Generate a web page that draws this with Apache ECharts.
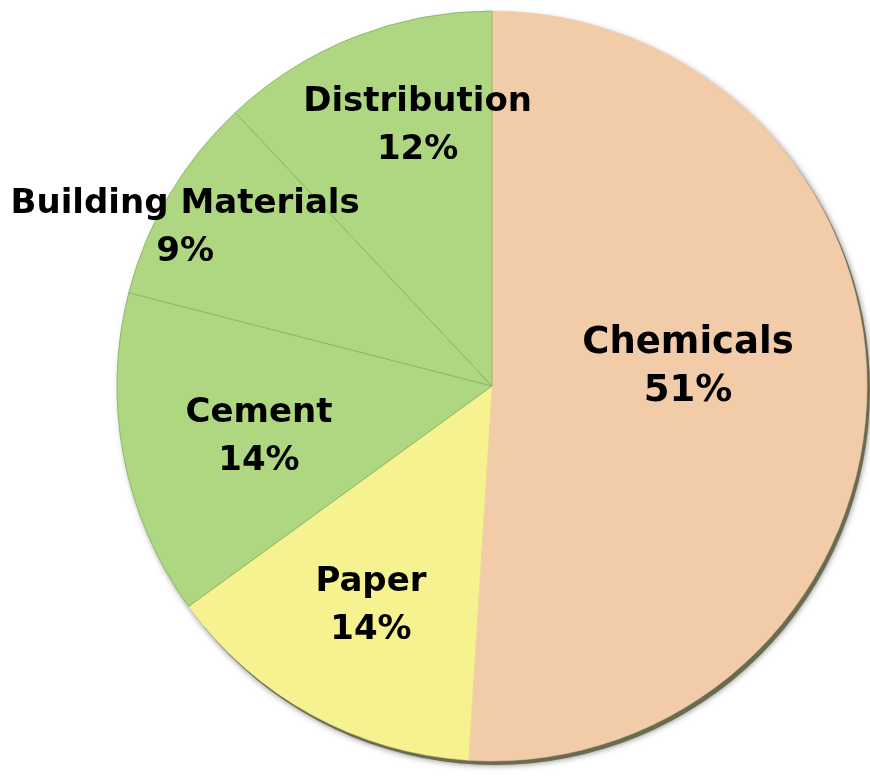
<!DOCTYPE html>
<html>
<head>
<meta charset="utf-8">
<script src="https://cdn.jsdelivr.net/npm/echarts@6/dist/echarts.min.js"></script>
<style>html,body{margin:0;padding:0;background:#fff}#c{width:870px;height:782px}</style>
</head>
<body>
<div id="c"></div>
<script>
const categories = ['Chemicals', 'Paper', 'Cement', 'Building Materials', 'Distribution'];
const values = [51, 14, 14, 9, 12];
const colors = ['#F2CBA8', '#F6F290', '#AFD782', '#AFD782', '#AFD782'];
const labelRadiusFactor = [0.525, 0.67, 0.636, 0.92, 0.72];
const labelAngleShiftDeg = [-7.3, 0, -1.5, -3.4, 5.6];
const labelFontSize = [37, 34, 34, 34, 34];

const CX = 492, CY = 386, R = 375;
const total = values.reduce((a, b) => a + b, 0);
const midAngles = [];
let acc = 0;
values.forEach(v => { midAngles.push((acc + v / 2) / total * 2 * Math.PI); acc += v; });

const chart = echarts.init(document.getElementById('c'));
chart.setOption({
  animation: false,
  series: [
    {
      type: 'pie', silent: true, center: [CX + 3, CY + 4], radius: R,
      label: { show: false }, labelLine: { show: false },
      itemStyle: { color: '#6b6b50', shadowBlur: 6, shadowColor: 'rgba(0,0,0,0.5)' },
      data: [{ value: total, name: 'shadow' }]
    },
    {
      type: 'pie', center: [CX, CY], radius: R, startAngle: 90, clockwise: true,
      data: categories.map((n, i) => ({
        name: n, value: values[i],
        itemStyle: {
          color: colors[i],
          borderColor: i >= 2 ? '#8DBA68' : colors[i],
          borderWidth: i >= 2 ? 1 : 0.5
        },
        label: { fontSize: labelFontSize[i] }
      })),
      label: {
        show: true, position: 'inside',
        formatter: p => p.name + '\n' + p.value + '%',
        fontFamily: 'DejaVu Sans', fontWeight: 'bold', fontSize: 34, lineHeight: 48,
        color: '#000', align: 'center', verticalAlign: 'middle'
      },
      labelLine: { show: false },
      labelLayout: function (p) {
        const i = p.dataIndex;
        const a = midAngles[i] + labelAngleShiftDeg[i] * Math.PI / 180;
        const f = labelRadiusFactor[i];
        return {
          x: CX + f * R * Math.sin(a),
          y: CY - f * R * Math.cos(a),
          align: 'center', verticalAlign: 'middle'
        };
      }
    }
  ]
});
</script>
</body>
</html>
